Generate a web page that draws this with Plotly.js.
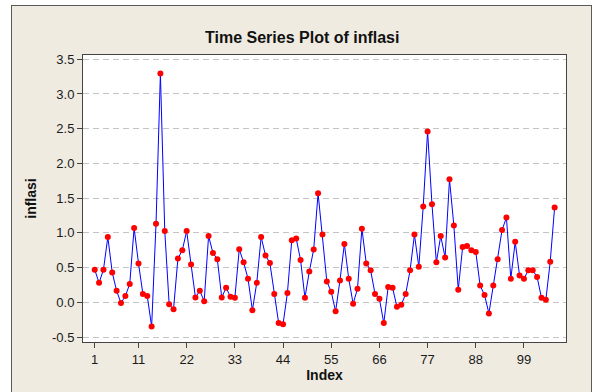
<!DOCTYPE html>
<html>
<head>
<meta charset="utf-8">
<script src="https://cdn.plot.ly/plotly-3.0.1.min.js"></script>
<style>
  html, body { margin:0; padding:0; background:#ffffff; }
  #frame { position:absolute; left:11px; top:5px; width:581px; height:395px; background:#EFEBE1; border:1px solid #5a5a5a; box-sizing:border-box; }
  #chart { position:absolute; left:0; top:0; width:595px; height:392px; }
</style>
</head>
<body>
<div id="frame"></div>
<div id="chart"></div>
<script>
// inflasi values, index 1..106
const inflasi = [
  0.47, 0.28, 0.47, 0.94, 0.43, 0.165, -0.01, 0.09, 0.265, 1.07,
  0.56, 0.12, 0.09, -0.35, 1.13, 3.295, 1.025, -0.03, -0.10, 0.63,
  0.75, 1.025, 0.545, 0.07, 0.165, 0.015, 0.955, 0.71, 0.62, 0.07,
  0.21, 0.08, 0.065, 0.765, 0.575, 0.34, -0.115, 0.28, 0.94, 0.675,
  0.565, 0.12, -0.30, -0.315, 0.135, 0.895, 0.92, 0.61, 0.065, 0.445,
  0.76, 1.57, 0.975, 0.30, 0.15, -0.13, 0.315, 0.84, 0.34, -0.02,
  0.195, 1.06, 0.56, 0.46, 0.12, 0.05, -0.30, 0.22, 0.21, -0.065,
  -0.035, 0.12, 0.46, 0.975, 0.51, 1.38, 2.46, 1.41, 0.575, 0.955,
  0.645, 1.77, 1.105, 0.18, 0.795, 0.81, 0.75, 0.725, 0.24, 0.105,
  -0.16, 0.24, 0.62, 1.04, 1.22, 0.34, 0.87, 0.385, 0.34, 0.46,
  0.46, 0.365, 0.065, 0.035, 0.585, 1.365
];
const indexVals = inflasi.map((_, i) => i + 1);
const xTickVals = [1, 11, 22, 33, 44, 55, 66, 77, 88, 99];
const yTickVals = [-0.5, 0.0, 0.5, 1.0, 1.5, 2.0, 2.5, 3.0, 3.5];
const yTickText = ["-0.5", "0.0", "0.5", "1.0", "1.5", "2.0", "2.5", "3.0", "3.5"];

const font = "Liberation Sans, Arial, sans-serif";

const trace = {
  x: indexVals,
  y: inflasi,
  type: 'scatter',
  mode: 'lines+markers',
  line: { color: '#0000FF', width: 1 },
  marker: { color: '#FF0000', size: 6 },
  hoverinfo: 'none'
};

const layout = {
  width: 595, height: 392,
  margin: { l: 83, r: 29, t: 55, b: 50 },
  paper_bgcolor: 'rgba(0,0,0,0)',
  plot_bgcolor: '#ffffff',
  showlegend: false,
  font: { family: font, size: 12, color: '#1a1a1a' },
  title: {
    text: '<b>Time Series Plot of inflasi</b>',
    font: { family: font, size: 16, color: '#111111' },
    x: 0.508, xref: 'container', xanchor: 'center',
    y: 1 - 37/392, yref: 'container', yanchor: 'middle'
  },
  xaxis: {
    range: [-1.67, 108.6],
    tickmode: 'array', tickvals: xTickVals,
    ticks: 'outside', ticklen: 5, tickcolor: '#444', tickwidth: 1,
    showgrid: false, zeroline: false,
    showline: true, linecolor: '#444', linewidth: 1, mirror: true,
    tickfont: { family: font, size: 13, color: '#1a1a1a' },
    title: { text: '<b>Index</b>', font: { family: font, size: 14, color: '#111' }, standoff: 0 }
  },
  yaxis: {
    range: [-0.572, 3.561],
    tickmode: 'array', tickvals: yTickVals, ticktext: yTickText,
    ticks: 'outside', ticklen: 5, tickcolor: '#444', tickwidth: 1,
    showgrid: true, gridcolor: '#c4c4c4', griddash: '6px,4px', gridwidth: 1,
    zeroline: false,
    showline: true, linecolor: '#444', linewidth: 1, mirror: true,
    tickfont: { family: font, size: 13, color: '#1a1a1a' },
    title: { text: '<b>inflasi</b>', font: { family: font, size: 14, color: '#111' }, standoff: 12 }
  }
};

Plotly.newPlot('chart', [trace], layout, { staticPlot: true, displayModeBar: false });
</script>
</body>
</html>
